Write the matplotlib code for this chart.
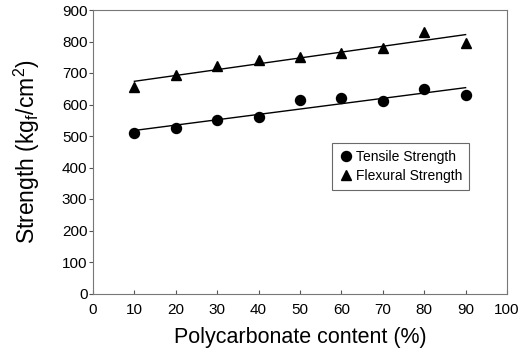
import numpy as np
import matplotlib
matplotlib.use("Agg")
import matplotlib.pyplot as plt

plt.rcParams['font.family'] = ['Liberation Sans', 'DejaVu Sans']
plt.rcParams['mathtext.fontset'] = 'custom'
plt.rcParams['mathtext.rm'] = 'Liberation Sans'

pc_content = [10, 20, 30, 40, 50, 60, 70, 80, 90]
tensile = [511, 526, 551, 561, 613, 620, 610, 648, 630]
flexural = [654, 693, 723, 741, 751, 764, 778, 830, 796]
x_ticks = [0, 10, 20, 30, 40, 50, 60, 70, 80, 90, 100]
y_ticks = [0, 100, 200, 300, 400, 500, 600, 700, 800, 900]

fig = plt.figure(figsize=(5.31, 3.52), dpi=100)
ax = fig.add_axes([93/531, 1 - 293.5/352, (507-93)/531, (293.5-10)/352])

x = np.array(pc_content)
ax.plot(x, tensile, 'o', color='black', markersize=7.2, label='Tensile Strength', linestyle='none')
ax.plot(x, flexural, '^', color='black', markersize=7.8, label='Flexural Strength', linestyle='none')
for ys in (tensile, flexural):
    p = np.polyfit(x, ys, 1)
    xx = np.array([x[0], x[-1]])
    ax.plot(xx, np.polyval(p, xx), color='black', linewidth=1.0)

ax.set_xlim(0, 100)
ax.set_ylim(0, 900)
ax.set_xticks(x_ticks)
ax.set_yticks(y_ticks)
ax.tick_params(axis='x', direction='in', length=3, labelsize=11, pad=7, color='#555555')
ax.tick_params(axis='y', direction='out', length=3, labelsize=11, pad=1, color='#555555')
for s in ax.spines.values():
    s.set_color('#777777')
    s.set_linewidth(0.8)

ax.set_xlabel('Polycarbonate content (%)', fontsize=15.5, labelpad=7)
ax.set_ylabel('Strength (kg$_\\mathregular{f}$/cm$^\\mathregular{2}$)', fontsize=16.5, labelpad=14)

leg = ax.legend(loc='upper left', bbox_to_anchor=((332-93)/414, 1 - (143-10)/283.5),
                frameon=True, fancybox=False, fontsize=10, handletextpad=0.2,
                handlelength=1.0, borderpad=0.5, labelspacing=0.35, borderaxespad=0)
leg.get_frame().set_edgecolor('#444444')
leg.get_frame().set_linewidth(0.8)

fig.savefig('out.png', dpi=100)
